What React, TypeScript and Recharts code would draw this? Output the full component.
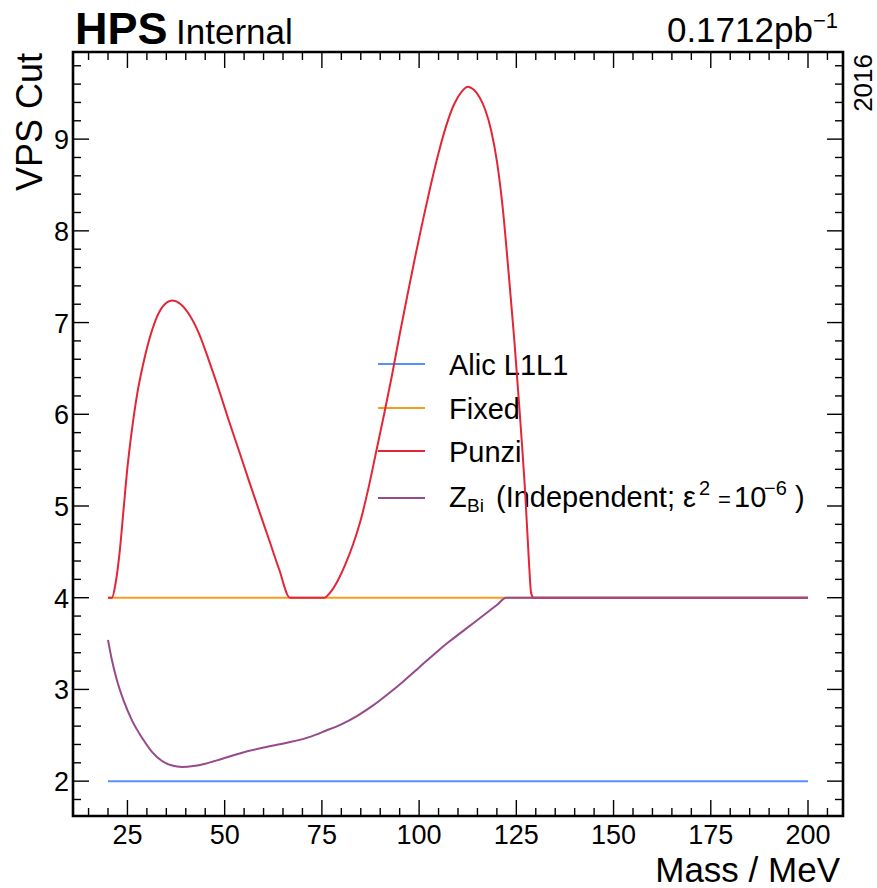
import React from 'react';
import { LineChart, Line, XAxis, YAxis, ReferenceArea, Customized } from 'recharts';

// ---------- data ----------
const alicMass = [20, 200];
const alicCut = [2, 2];

const fixedMass = [20, 200];
const fixedCut = [4, 4];

const punziMass = [
  20, 21, 22, 23, 24, 25, 26, 27.5, 29, 30.5, 32, 34, 36.5, 38.7, 41, 43.4, 46, 48.5, 51, 53.7,
  56.2, 58.8, 61.4, 64, 66.8, 75.6, 77, 79, 81, 83, 85, 87, 89, 91, 93, 95, 97, 99, 101, 103,
  105, 107, 109, 111, 112.5, 114, 115.5, 117, 118.5, 120, 121.5, 123, 124.5, 125.8, 127.35, 128.3,
  128.8, 129.5, 140, 160, 180, 200,
];
const punziCut = [
  4, 4, 4.17, 4.5, 4.96, 5.42, 5.78, 6.22, 6.54, 6.8, 7.0, 7.17, 7.24, 7.2, 7.08, 6.88, 6.58, 6.27,
  5.94, 5.6, 5.28, 4.955, 4.635, 4.31, 4.0, 4.0, 4.05, 4.18, 4.36, 4.58, 4.85, 5.2, 5.6, 6.0,
  6.42, 6.87, 7.3, 7.72, 8.12, 8.5, 8.85, 9.15, 9.38, 9.52, 9.57, 9.54, 9.46, 9.32, 9.1, 8.76, 8.25,
  7.55, 6.8, 6.06, 5.09, 4.35, 4.05, 4.0, 4.0, 4.0, 4.0, 4.0,
];

const zbiMass = [
  20, 21, 22.3, 24, 26.2, 28.8, 31.3, 33.9, 36.5, 39, 42, 45, 49.4, 54.5, 60.5, 65.7, 71.7, 76,
  80, 84, 88, 92, 96, 100, 104, 108, 112, 116, 120, 122.4, 140, 160, 180, 200,
];
const zbiCut = [
  3.54, 3.32, 3.1, 2.88, 2.66, 2.47, 2.32, 2.22, 2.17, 2.155, 2.165, 2.19, 2.245, 2.31, 2.37, 2.415,
  2.48, 2.55, 2.62, 2.71, 2.82, 2.95, 3.09, 3.24, 3.39, 3.53, 3.66, 3.79, 3.92, 4.0, 4.0, 4.0, 4.0,
  4.0,
];

// ---------- ticks ----------
const xMajorTicks = [25, 50, 75, 100, 125, 150, 175, 200];
const xTicks = [
  15, 20, 25, 30, 35, 40, 45, 50, 55, 60, 65, 70, 75, 80, 85, 90, 95, 100, 105, 110, 115, 120, 125,
  130, 135, 140, 145, 150, 155, 160, 165, 170, 175, 180, 185, 190, 195, 200, 205,
];
const yMajorTicks = [2, 3, 4, 5, 6, 7, 8, 9];
const yTicks = [
  1.8, 2, 2.2, 2.4, 2.6, 2.8, 3, 3.2, 3.4, 3.6, 3.8, 4, 4.2, 4.4, 4.6, 4.8, 5, 5.2, 5.4, 5.6, 5.8,
  6, 6.2, 6.4, 6.6, 6.8, 7, 7.2, 7.4, 7.6, 7.8, 8, 8.2, 8.4, 8.6, 8.8, 9, 9.2, 9.4, 9.6, 9.8,
];

const xDomain = [11, 209];
const yDomain = [1.62, 9.95];

const seriesNames = ['Alic L1L1', 'Fixed', 'Punzi'];
const colors = { alic: '#5790fc', fixed: '#f89c20', punzi: '#e42536', zbi: '#964a8b' };

const toRows = (ms: number[], vs: number[]) => ms.map((m, i) => ({ mass: m, cut: vs[i] }));
const alicData = toRows(alicMass, alicCut);
const fixedData = toRows(fixedMass, fixedCut);
const punziData = toRows(punziMass, punziCut);
const zbiData = toRows(zbiMass, zbiCut);

const FONT = '"Liberation Sans", Arial, Helvetica, sans-serif';
const MAJOR = 16;
const MINOR = 8;
const TW = 1.4;

const isMajorY = (v: number) => yMajorTicks.some((t) => Math.abs(t - v) < 1e-6);
const isMajorX = (v: number) => xMajorTicks.includes(v);

const BottomTick = (p: any) => {
  const { x, y, payload } = p;
  const major = isMajorX(payload.value);
  return (
    <g>
      <line x1={x} y1={y} x2={x} y2={y - (major ? MAJOR : MINOR)} stroke="#000" strokeWidth={TW} />
      {major && (
        <text x={x} y={y + 28} textAnchor="middle" fontSize={27} fontFamily={FONT} fill="#000">
          {payload.value}
        </text>
      )}
    </g>
  );
};
const TopTick = (p: any) => {
  const { x, y, payload } = p;
  const major = isMajorX(payload.value);
  return <line x1={x} y1={y} x2={x} y2={y + (major ? MAJOR : MINOR)} stroke="#000" strokeWidth={TW} />;
};
const LeftTick = (p: any) => {
  const { x, y, payload } = p;
  const major = isMajorY(payload.value);
  return (
    <g>
      <line x1={x} y1={y} x2={x + (major ? MAJOR : MINOR)} y2={y} stroke="#000" strokeWidth={TW} />
      {major && (
        <text x={x - 4} y={y + 10} textAnchor="end" fontSize={27} fontFamily={FONT} fill="#000">
          {Math.round(payload.value)}
        </text>
      )}
    </g>
  );
};
const RightTick = (p: any) => {
  const { x, y, payload } = p;
  const major = isMajorY(payload.value);
  return <line x1={x} y1={y} x2={x - (major ? MAJOR : MINOR)} y2={y} stroke="#000" strokeWidth={TW} />;
};

const legendRows = [364, 408, 451, 498];
const legendColors = [colors.alic, colors.fixed, colors.punzi, colors.zbi];

const Overlay = () => (
  <g fontFamily={FONT} fill="#000">
    <text x={75} y={44} fontSize={45} fontWeight="bold">HPS</text>
    <text x={176} y={44} fontSize={35}>Internal</text>
    <text x={838} y={42} fontSize={35} textAnchor="end">
      0.1712pb<tspan dy={-14} fontSize={22}>−1</tspan>
    </text>
    <text transform="translate(872,54) rotate(-90)" fontSize={26} textAnchor="end">2016</text>
    <text transform="translate(42,53) rotate(-90)" fontSize={36} textAnchor="end">VPS Cut</text>
    <text x={840} y={882} fontSize={35} textAnchor="end">Mass / MeV</text>
    {legendRows.map((ly, i) => (
      <line key={i} x1={378} x2={425} y1={ly} y2={ly} stroke={legendColors[i]} strokeWidth={2} />
    ))}
    {seriesNames.map((n, i) => (
      <text key={n} x={449} y={legendRows[i] + 11} fontSize={29}>{n}</text>
    ))}
    <text x={449} y={legendRows[3] + 9} fontSize={29}>
      Z<tspan x={467} fontSize={19} dy={5}>Bi</tspan>
      <tspan x={496} dy={-5}>(Independent; ε</tspan>
      <tspan x={699} fontSize={20} dy={-12}>2</tspan>
      <tspan x={718} fontSize={22} dy={12}>=</tspan>
      <tspan x={734}>10</tspan>
      <tspan x={764} fontSize={20} dy={-12}>−6</tspan>
      <tspan x={795} dy={12}>)</tspan>
    </text>
  </g>
);

export default function App() {
  return (
    <div style={{ position: 'absolute', left: 0, top: 0, width: 877, height: 888, background: '#fff' }}>
      <LineChart width={877} height={888} margin={{ top: 0, right: 0, bottom: 0, left: 0 }}>
        <XAxis
          xAxisId="bottom"
          dataKey="mass"
          type="number"
          orientation="bottom"
          domain={xDomain}
          allowDataOverflow
          ticks={xTicks}
          interval={0}
          height={72}
          tickSize={0}
          tickMargin={0}
          tickLine={false}
          axisLine={false}
          tick={BottomTick}
        />
        <XAxis
          xAxisId="top"
          dataKey="mass"
          type="number"
          orientation="top"
          domain={xDomain}
          allowDataOverflow
          ticks={xTicks}
          interval={0}
          height={52}
          tickSize={0}
          tickMargin={0}
          tickLine={false}
          axisLine={false}
          tick={TopTick}
        />
        <YAxis
          yAxisId="left"
          type="number"
          orientation="left"
          domain={yDomain}
          allowDataOverflow
          ticks={yTicks}
          interval={0}
          width={73}
          tickSize={0}
          tickMargin={0}
          tickLine={false}
          axisLine={false}
          tick={LeftTick}
        />
        <YAxis
          yAxisId="right"
          type="number"
          orientation="right"
          domain={yDomain}
          allowDataOverflow
          ticks={yTicks}
          interval={0}
          width={34}
          tickSize={0}
          tickMargin={0}
          tickLine={false}
          axisLine={false}
          tick={RightTick}
        />
        <Line xAxisId="bottom" yAxisId="left" data={alicData} dataKey="cut" type="linear" stroke={colors.alic} strokeWidth={2} dot={false} isAnimationActive={false} />
        <Line xAxisId="bottom" yAxisId="left" data={fixedData} dataKey="cut" type="linear" stroke={colors.fixed} strokeWidth={2} dot={false} isAnimationActive={false} />
        <Line xAxisId="bottom" yAxisId="left" data={punziData} dataKey="cut" type="monotone" stroke={colors.punzi} strokeWidth={2} dot={false} isAnimationActive={false} />
        <Line xAxisId="bottom" yAxisId="left" data={zbiData} dataKey="cut" type="monotone" stroke={colors.zbi} strokeWidth={2} dot={false} isAnimationActive={false} />
        <ReferenceArea
          xAxisId="bottom"
          yAxisId="left"
          x1={xDomain[0]}
          x2={xDomain[1]}
          y1={yDomain[0]}
          y2={yDomain[1]}
          fill="none"
          fillOpacity={0}
          stroke="#000"
          strokeWidth={2.6}
          ifOverflow="visible"
        />
        <Customized component={Overlay} />
      </LineChart>
    </div>
  );
}
